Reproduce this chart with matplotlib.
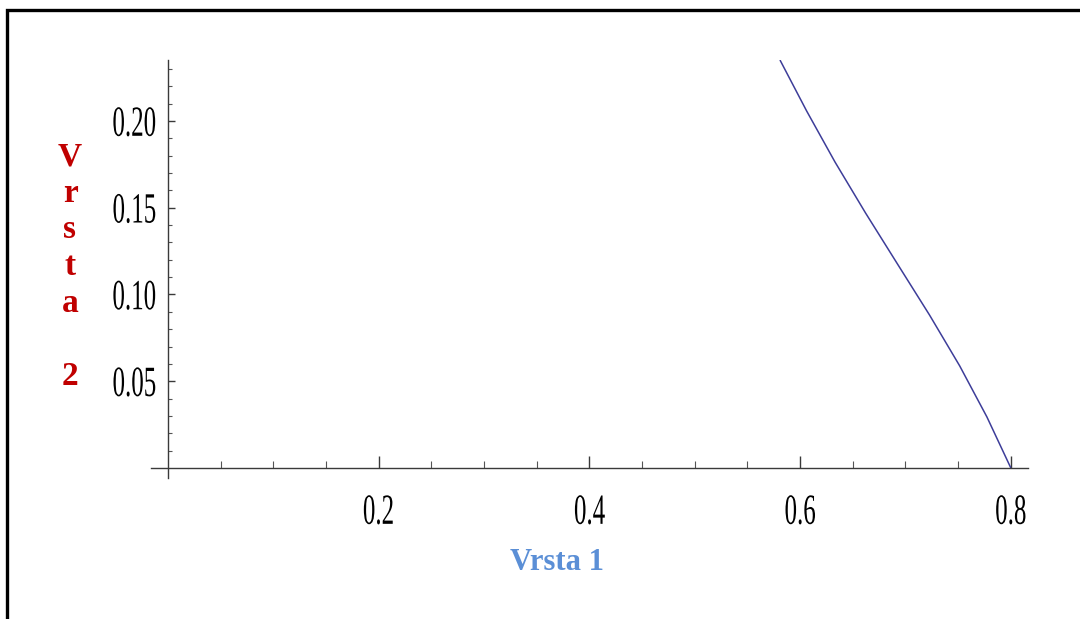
import matplotlib
matplotlib.use("Agg")
import matplotlib.pyplot as plt
from matplotlib import patheffects
from matplotlib.lines import Line2D
from matplotlib.transforms import Affine2D
import numpy as np

vrsta1 = [0.5809, 0.6062, 0.6331, 0.6621, 0.6924, 0.7228, 0.7515, 0.7773, 0.8000]
vrsta2 = [0.2352, 0.2058, 0.1764, 0.1470, 0.1176, 0.0882, 0.0588, 0.0294, 0.0]

x_major = [0.2, 0.4, 0.6, 0.8]
x_labels = ["0.2", "0.4", "0.6", "0.8"]
y_major = [0.05, 0.10, 0.15, 0.20]
y_labels = ["0.05", "0.10", "0.15", "0.20"]


class Squeeze(patheffects.AbstractPathEffect):
    """Narrow the glyphs horizontally, like a condensed face."""

    def __init__(self, sx, anchor="center"):
        super().__init__()
        self.sx = sx
        self.anchor = anchor

    def draw_path(self, renderer, gc, tpath, affine, rgbFace=None):
        ext = tpath.get_extents(affine)
        x0 = ext.x1 if self.anchor == "right" else 0.5 * (ext.x0 + ext.x1)
        squeeze = Affine2D().translate(-x0, 0).scale(self.sx, 1).translate(x0, 0)
        renderer.draw_path(gc, tpath, affine + squeeze, rgbFace)


fig = plt.figure(figsize=(10.8, 6.19), dpi=100)
ax = fig.add_axes([151 / 1080, 141 / 619, 877 / 1080, 418 / 619])

ax.plot(vrsta1, vrsta2, color="#3d3d99", lw=1.1, solid_capstyle="butt",
        solid_joinstyle="round")

ax.set_xlim(-0.0161, 0.8163)
ax.set_ylim(-0.0058, 0.2352)

for side in ("top", "right"):
    ax.spines[side].set_visible(False)
ax.spines["left"].set_position(("data", 0))
ax.spines["bottom"].set_position(("data", 0))
for side in ("left", "bottom"):
    ax.spines[side].set_color("#3a3a3a")
    ax.spines[side].set_linewidth(1.0)

ax.set_xticks(x_major, x_labels)
ax.set_xticks(np.arange(0.05, 0.81, 0.05), minor=True)
ax.set_yticks(y_major, y_labels)
ax.set_yticks(np.arange(0.01, 0.235, 0.01), minor=True)

ax.tick_params(axis="x", which="major", direction="in", length=8.5, width=1.0,
               color="#3a3a3a", pad=19, labelsize=31)
ax.tick_params(axis="x", which="minor", direction="in", length=5, width=0.8,
               color="#555555")
ax.tick_params(axis="y", which="major", direction="in", length=5, width=1.0,
               color="#3a3a3a", pad=8, labelsize=31)
ax.tick_params(axis="y", which="minor", direction="in", length=3, width=0.8,
               color="#555555")

for lab in ax.get_xticklabels():
    lab.set_fontfamily("Liberation Serif")
    lab.set_path_effects([Squeeze(0.58)])
for lab in ax.get_yticklabels():
    lab.set_fontfamily("Liberation Serif")
    lab.set_path_effects([Squeeze(0.58, anchor="right")])

fig.text(557 / 1080, 1 - 563 / 619, "Vrsta 1", ha="center", va="center",
         family="Liberation Serif", weight="bold", fontsize=22, color="#5b8fd6")
fig.text(70 / 1080, 1 - 385 / 619, "V\nr\ns\nt\na\n\n2", ha="center", va="baseline",
         family="Liberation Serif", weight="bold", fontsize=24, color="#c00000",
         linespacing=1.235, multialignment="center")

# outer frame, only its left and top edges fall inside the image
fig.add_artist(Line2D([7 / 1080, 7 / 1080, 1.0], [0.0, 1 - 9.5 / 619, 1 - 9.5 / 619],
                      transform=fig.transFigure, color="black", lw=2.4,
                      solid_joinstyle="miter"))

fig.savefig("out.png", dpi=100)
